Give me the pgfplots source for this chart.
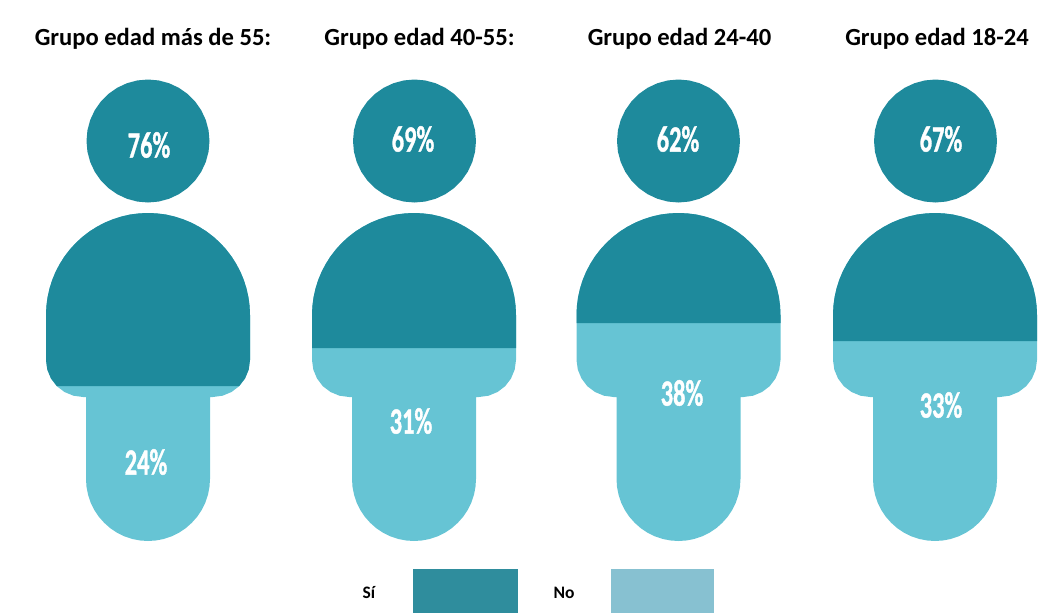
\documentclass[border=0pt]{standalone}
\usepackage{graphicx}
\usepackage{pgfplots}
\usepackage{pgfplotstable}
\usepackage{fontspec}
\pgfplotsset{compat=1.18}
\setmainfont{Carlito}
\newfontfamily\numfont[BoldFeatures={FakeBold=1.2}]{Carlito}
\definecolor{si}{HTML}{1E8A9C}
\definecolor{no}{HTML}{66C4D4}
\definecolor{legsi}{HTML}{2F8D9D}
\definecolor{legno}{HTML}{87C1D1}
\pgfplotstableread{
x y
0 213
8.89 213.39
17.7 214.5
26.4 216.48
34.9 219.2
43.11 222.56
51 226.7
58.51 231.44
65.6 236.9
72.12 242.88
78.1 249.4
83.56 256.49
88.3 264
92.44 271.89
95.85 280.1
98.52 288.6
100.45 297.3
101.61 306.11
102 315
102 360
100.7 369.6
97 378.5
91.2 386.2
83.5 392
74.6 395.7
65 397
62 397
62 479
61.47 487.09
59.9 495
57.28 502.73
53.7 510
49.19 516.74
43.8 522.8
37.74 528.19
31 532.7
23.73 536.28
16 538.9
8.09 540.47
0 541
-8.09 540.47
-16 538.9
-23.73 536.28
-31 532.7
-37.74 528.19
-43.8 522.8
-49.19 516.74
-53.7 510
-57.28 502.73
-59.9 495
-61.47 487.09
-62 479
-62 397
-65 397
-74.6 395.7
-83.5 392
-91.2 386.2
-97 378.5
-100.7 369.6
-102 360
-102 315
-101.61 306.11
-100.45 297.3
-98.52 288.6
-95.85 280.1
-92.44 271.89
-88.3 264
-83.56 256.49
-78.1 249.4
-72.12 242.88
-65.6 236.9
-58.51 231.44
-51 226.7
-43.11 222.56
-34.9 219.2
-26.4 216.48
-17.7 214.5
-8.89 213.39
}\person
\pgfplotstableread{
x y
61.5 0
60.57 10.68
57.79 21.03
53.26 30.75
47.11 39.53
39.53 47.11
30.75 53.26
21.03 57.79
10.68 60.57
0 61.5
-10.68 60.57
-21.03 57.79
-30.75 53.26
-39.53 47.11
-47.11 39.53
-53.26 30.75
-57.79 21.03
-60.57 10.68
-61.5 0
-60.57 -10.68
-57.79 -21.03
-53.26 -30.75
-47.11 -39.53
-39.53 -47.11
-30.75 -53.26
-21.03 -57.79
-10.68 -60.57
0 -61.5
10.68 -60.57
21.03 -57.79
30.75 -53.26
39.53 -47.11
47.11 -39.53
53.26 -30.75
57.79 -21.03
60.57 -10.68
}\headshape
\newcommand{\pct}[1]{\scalebox{0.66}[1]{\numfont\bfseries\fontsize{37}{37}\selectfont #1}}
\begin{document}
\begin{tikzpicture}
\useasboundingbox (0,0) rectangle (1044pt,613pt);
\begin{axis}[
  at={(0,0)}, anchor=south west,
  x=1pt, y=1pt, xmin=0, xmax=1044, ymin=0, ymax=613, y dir=reverse,
  hide axis, clip=false, scale only axis,
  every axis plot/.append style={draw=none},
]
% silhouettes (No colour), full figure
\addplot[fill=no] table[x expr=\thisrow{x}+148, y=y] {\person};
\addplot[fill=no] table[x expr=\thisrow{x}+414, y=y] {\person};
\addplot[fill=no] table[x expr=\thisrow{x}+678.5, y=y] {\person};
\addplot[fill=no] table[x expr=\thisrow{x}+935, y=y] {\person};
% Si part, cut at the level of each figure
\addplot[fill=si] table[x expr=\thisrow{x}+148, y expr={min(\thisrow{y},386)}] {\person};
\addplot[fill=si] table[x expr=\thisrow{x}+414, y expr={min(\thisrow{y},348)}] {\person};
\addplot[fill=si] table[x expr=\thisrow{x}+678.5, y expr={min(\thisrow{y},323)}] {\person};
\addplot[fill=si] table[x expr=\thisrow{x}+935, y expr={min(\thisrow{y},341)}] {\person};
% heads
\addplot[fill=si] table[x expr=\thisrow{x}+148, y expr=\thisrow{y}+141] {\headshape};
\addplot[fill=si] table[x expr=\thisrow{x}+414.5, y expr=\thisrow{y}+141] {\headshape};
\addplot[fill=si] table[x expr=\thisrow{x}+678.5, y expr=\thisrow{y}+141] {\headshape};
\addplot[fill=si] table[x expr=\thisrow{x}+935.5, y expr=\thisrow{y}+141] {\headshape};
% legend swatches
\addplot[fill=legsi] coordinates {(413,569) (518,569) (518,613) (413,613)};
\addplot[fill=legno] coordinates {(611,569) (714,569) (714,613) (611,613)};
% titles
\node[font=\bfseries\fontsize{24.6}{26}\selectfont, text=black] at (axis cs:153,39) {Grupo edad más de 55:};
\node[font=\bfseries\fontsize{24.6}{26}\selectfont, text=black] at (axis cs:419.5,39) {Grupo edad 40-55:};
\node[font=\bfseries\fontsize{24.6}{26}\selectfont, text=black] at (axis cs:679.5,39) {Grupo edad 24-40};
\node[font=\bfseries\fontsize{24.6}{26}\selectfont, text=black] at (axis cs:937,39) {Grupo edad 18-24};
% percentages
\node[text=white] at (axis cs:149,145) {\pct{76\%}};
\node[text=white] at (axis cs:413,139) {\pct{69\%}};
\node[text=white] at (axis cs:678,139) {\pct{62\%}};
\node[text=white] at (axis cs:941,139) {\pct{67\%}};
\node[text=white] at (axis cs:146,462) {\pct{24\%}};
\node[text=white] at (axis cs:411,421) {\pct{31\%}};
\node[text=white] at (axis cs:682,393) {\pct{38\%}};
\node[text=white] at (axis cs:941,405) {\pct{33\%}};
% legend text
\node[font=\bfseries\fontsize{17.5}{18}\selectfont, text=black] at (axis cs:369,593) {Sí};
\node[font=\bfseries\fontsize{17.5}{18}\selectfont, text=black] at (axis cs:564,593) {No};
\end{axis}
\end{tikzpicture}
\end{document}
